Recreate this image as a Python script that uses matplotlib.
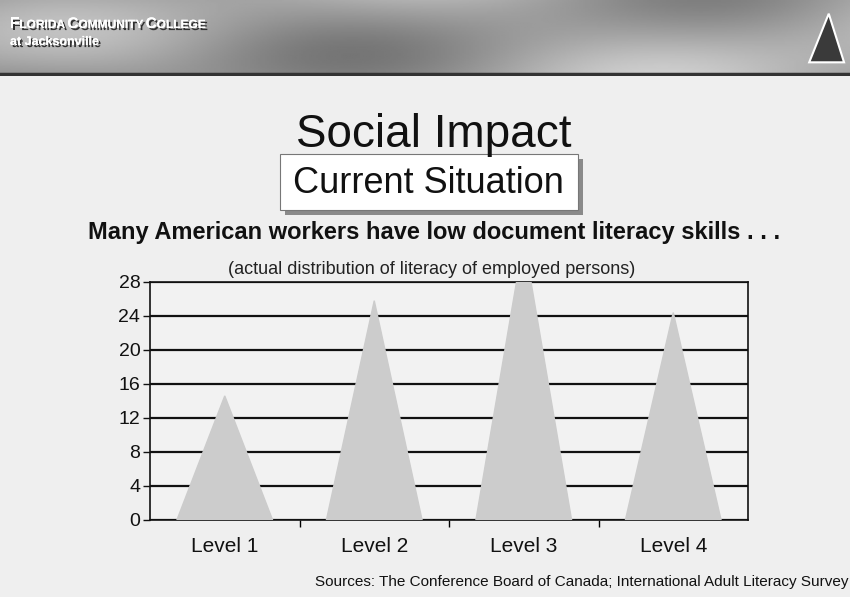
import numpy as np
import matplotlib.pyplot as plt
import matplotlib.patheffects as pe
from matplotlib.patches import Rectangle, Polygon

# chart data
levels = ['Level 1', 'Level 2', 'Level 3', 'Level 4']
share = [14.6, 25.8, 33.0, 24.4]
y_ticks = [0, 4, 8, 12, 16, 20, 24, 28]

plt.rcParams['font.family'] = ['Liberation Sans', 'DejaVu Sans']
NARROW = ['Liberation Sans Narrow', 'Liberation Sans']

fig = plt.figure(figsize=(8.5, 5.97), dpi=100)
fig.patch.set_facecolor('#efefef')

# header banner
hdr = fig.add_axes([0, 1 - 76 / 597, 1, 76 / 597])
xx = np.linspace(0, 1, 400)
yy = np.linspace(0, 1, 60)
X, Y = np.meshgrid(xx, yy)
band = 0.62 + 0.1 * np.sin(6 * X + 3 * Y) + 0.07 * np.cos(11 * X - 2 * Y) + 0.08 * X
hdr.imshow(band, cmap='gray', vmin=0, vmax=1.05, aspect='auto', extent=[0, 1, 0, 1])
hdr.set_xlim(0, 1)
hdr.set_ylim(0, 1)
hdr.axis('off')
hdr.plot([0, 1], [0.02, 0.02], color='#333333', lw=2.5)
shadow = [pe.withSimplePatchShadow(offset=(1.5, -1.5), shadow_rgbFace='#222222', alpha=0.9), pe.Normal()]

renderer = fig.canvas.get_renderer()
xpos = 10
for part, size in [('F', 11), ('LORIDA ', 8.6), ('C', 11), ('OMMUNITY ', 8.6), ('C', 11), ('OLLEGE', 8.6)]:
    t = fig.text(xpos / 850, 1 - 28 / 597, part, color='white', fontsize=size, fontweight='bold',
                 family=NARROW, path_effects=shadow)
    xpos += t.get_window_extent(renderer).width
fig.text(10 / 850, 1 - 45 / 597, 'at Jacksonville', color='white', fontsize=9, fontweight='bold',
         family=NARROW, path_effects=shadow)
hdr.add_patch(Polygon([[0.952, 0.18], [0.993, 0.18], [0.975, 0.82]], closed=True,
                      facecolor='#3a3a3a', edgecolor='white', lw=1.5))

# titles
fig.text(0.51, 1 - 135 / 597, 'Social Impact', fontsize=33, ha='center', va='center', color='#111111')
fig.patches.append(Rectangle((285 / 850, 1 - 215 / 597), 298 / 850, 56 / 597, transform=fig.transFigure,
                             facecolor='#8a8a8a', edgecolor='none'))
fig.patches.append(Rectangle((280 / 850, 1 - 210 / 597), 298 / 850, 56 / 597, transform=fig.transFigure,
                             facecolor='white', edgecolor='#777777', lw=0.8))
fig.text(0.504, 1 - 184 / 597, 'Current Situation', fontsize=26, ha='center', va='center', color='#111111')
fig.text(0.511, 1 - 232 / 597, 'Many American workers have low document literacy skills . . .',
         fontsize=17, fontweight='bold', ha='center', va='center', color='#111111')
fig.text(0.508, 1 - 270 / 597, '(actual distribution of literacy of employed persons)',
         fontsize=13, ha='center', va='center', color='#222222')
fig.text(0.998, 1 - 582 / 597, 'Sources: The Conference Board of Canada; International Adult Literacy Survey',
         fontsize=11, ha='right', va='center', color='#111111', family=NARROW)

# chart
ax = fig.add_axes([150 / 850, 1 - 520 / 597, 598 / 850, 238 / 597])
ax.set_facecolor('#f2f2f2')
x = np.arange(len(levels))
half = 0.32
for xi, v in zip(x, share):
    ax.fill([xi - half, xi, xi + half], [0, v, 0], color='#cccccc', zorder=3, clip_on=True)
ax.set_xlim(-0.5, len(levels) - 0.5)
ax.set_ylim(0, 28)
ax.set_yticks(y_ticks)
ax.tick_params(axis='y', labelsize=14, length=5, width=1, colors='#111111', pad=2)
ax.set_xticks(x)
ax.set_xticklabels(levels, fontsize=15)
ax.set_xticks(x[:-1] + 0.5, minor=True)
ax.tick_params(axis='x', which='major', length=0, pad=12, colors='#111111')
ax.tick_params(axis='x', which='minor', length=5, width=1)
ax.yaxis.grid(True, color='#111111', lw=1.6, zorder=1)
ax.set_axisbelow(True)
for s in ax.spines.values():
    s.set_color('#111111')
    s.set_linewidth(1.2)

fig.savefig('out.png', dpi=100, facecolor=fig.get_facecolor())
